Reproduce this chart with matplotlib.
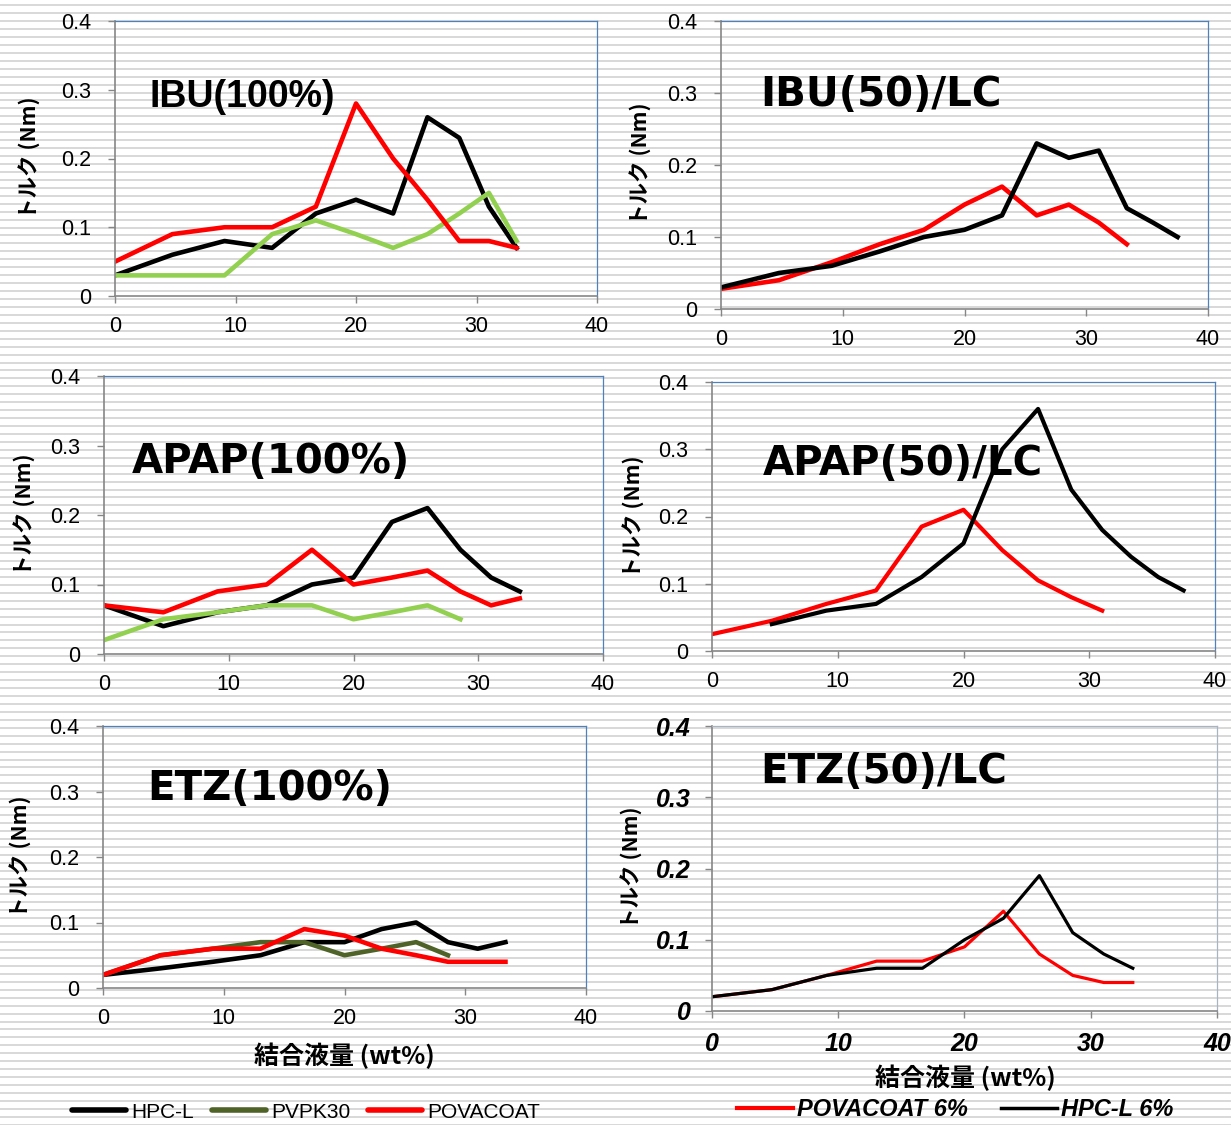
import numpy as np
import matplotlib
matplotlib.use("Agg")
import matplotlib.pyplot as plt
from matplotlib.lines import Line2D

# 結合液量 (wt%) の測定点
binder = [0, 4.76, 9.09, 13.04, 16.67, 20.0, 23.08, 25.93, 28.57, 31.03, 33.33, 35.48, 37.5]

# トルク (Nm)
ibu100_hpc = [0.03, 0.06, 0.08, 0.07, 0.12, 0.14, 0.12, 0.26, 0.23, 0.13, 0.07]
ibu100_pvp = [0.03, 0.03, 0.03, 0.09, 0.11, 0.09, 0.07, 0.09, 0.12, 0.15, 0.08]
ibu100_pova = [0.05, 0.09, 0.10, 0.10, 0.13, 0.28, 0.20, 0.14, 0.08, 0.08, 0.07]

ibu50_pova = [0.028, 0.04, 0.065, 0.09, 0.11, 0.145, 0.17, 0.13, 0.145, 0.12, 0.09]
ibu50_hpc = [0.03, 0.05, 0.06, 0.08, 0.10, 0.11, 0.13, 0.23, 0.21, 0.22, 0.14, 0.12, 0.10]

apap100_hpc = [0.07, 0.04, 0.06, 0.07, 0.10, 0.11, 0.19, 0.21, 0.15, 0.11, 0.09]
apap100_pvp = [0.02, 0.05, 0.06, 0.07, 0.07, 0.05, 0.06, 0.07, 0.05]
apap100_pova = [0.07, 0.06, 0.09, 0.10, 0.15, 0.10, 0.11, 0.12, 0.09, 0.07, 0.08]

apap50_pova = [0.025, 0.045, 0.07, 0.09, 0.185, 0.21, 0.15, 0.105, 0.08, 0.06]
apap50_hpc = [0.04, 0.06, 0.07, 0.11, 0.16, 0.30, 0.36, 0.24, 0.18, 0.14, 0.11, 0.09]  # 4.76 から

etz100_hpc = [0.02, 0.03, 0.04, 0.05, 0.07, 0.07, 0.09, 0.10, 0.07, 0.06, 0.07]
etz100_pvp = [0.02, 0.05, 0.06, 0.07, 0.07, 0.05, 0.06, 0.07, 0.05]
etz100_pova = [0.02, 0.05, 0.06, 0.06, 0.09, 0.08, 0.06, 0.05, 0.04, 0.04, 0.04]

etz50_pova = [0.02, 0.03, 0.05, 0.07, 0.07, 0.09, 0.14, 0.08, 0.05, 0.04, 0.04]
etz50_hpc = [0.02, 0.03, 0.05, 0.06, 0.06, 0.10, 0.13, 0.19, 0.11, 0.08, 0.06]

x_ticks = [0, 10, 20, 30, 40]
y_ticks = [0, 0.1, 0.2, 0.3, 0.4]
y_tick_labels = ["0", "0.1", "0.2", "0.3", "0.4"]

legend_left = ["HPC-L", "PVPK30", "POVACOAT"]
legend_right = ["POVACOAT 6%", "HPC-L 6%"]

BLACK = "#000000"
LIGHT_GREEN = "#92D050"
OLIVE = "#4F6228"
RED = "#FF0000"

W, H = 1231, 1125
SANS = ["Liberation Sans", "DejaVu Sans"]
JP = ["Noto Sans CJK JP", "DejaVu Sans"]
plt.rcParams["font.family"] = SANS

fig = plt.figure(figsize=(W / 100, H / 100), dpi=100)
fig.patch.set_facecolor("white")

# 背景の横縞
bg = np.full((H, W, 3), 255, dtype=np.uint8)
rows = np.arange(H)
stripe = ((rows - 3.7) % 7.94) < 2.0
bg[stripe] = 217
fig.figimage(bg, xo=0, yo=0, origin="upper", zorder=-5)


def px_axes(left, top, right, bottom):
    return fig.add_axes([left / W, 1 - bottom / H, (right - left) / W, (bottom - top) / H])


def style(ax, frame="#4F81BD", tick_size=15.5, bold_italic=False, ypad=12, xpad=9.5):
    ax.set_facecolor("none")
    ax.set_xlim(0, 40)
    ax.set_ylim(0, 0.4)
    ax.set_xticks(x_ticks)
    ax.set_yticks(y_ticks)
    ax.set_yticklabels(y_tick_labels)
    for s in ["left", "bottom"]:
        ax.spines[s].set_color("#868686")
        ax.spines[s].set_linewidth(1.2)
    for s in ["top", "right"]:
        ax.spines[s].set_color(frame)
        ax.spines[s].set_linewidth(0.9)
    ax.tick_params(axis="both", direction="out", length=5, width=1, color="#868686",
                   labelsize=tick_size)
    ax.tick_params(axis="y", pad=ypad)
    ax.tick_params(axis="x", pad=xpad)
    if bold_italic:
        for lab in ax.get_xticklabels() + ax.get_yticklabels():
            lab.set_fontweight("bold")
            lab.set_fontstyle("italic")


def title(x, y, text, family="DejaVu Sans", size=29):
    fig.text(x / W, 1 - y / H, text, family=family, fontweight="bold", fontsize=size,
             ha="left", va="baseline")


def ylab(x, y):
    fig.text(x / W, 1 - y / H, "トルク (Nm)", family=JP, fontweight="bold", fontsize=15.5,
             rotation=90, ha="center", va="center")


def xlab(x, y):
    fig.text(x / W, 1 - y / H, "結合液量 (wt%)", family=JP, fontweight="bold", fontsize=18,
             ha="center", va="center")


LW = 3.3

# IBU(100%)
ax1 = px_axes(115, 21, 597, 296)
ax1.plot(binder[:len(ibu100_hpc)], ibu100_hpc, color=BLACK, lw=LW)
ax1.plot(binder[:len(ibu100_pvp)], ibu100_pvp, color=LIGHT_GREEN, lw=LW)
ax1.plot(binder[:len(ibu100_pova)], ibu100_pova, color=RED, lw=LW)
style(ax1)
title(150, 107, "IBU(100%)", family=SANS, size=27)
ylab(29, 158)

# IBU(50)/LC
ax2 = px_axes(721, 21, 1208, 309)
ax2.plot(binder[:len(ibu50_pova)], ibu50_pova, color=RED, lw=LW)
ax2.plot(binder[:len(ibu50_hpc)], ibu50_hpc, color=BLACK, lw=LW)
style(ax2)
title(760, 106, "IBU(50)/LC")
ylab(640, 164)

# APAP(100%)
ax3 = px_axes(104, 376, 603, 654)
ax3.plot(binder[:len(apap100_hpc)], apap100_hpc, color=BLACK, lw=LW)
ax3.plot(binder[:len(apap100_pvp)], apap100_pvp, color=LIGHT_GREEN, lw=LW)
ax3.plot(binder[:len(apap100_pova)], apap100_pova, color=RED, lw=LW)
style(ax3)
title(132, 473, "APAP(100%)")
ylab(24, 515)

# APAP(50)/LC
ax4 = px_axes(712, 382, 1215, 651)
ax4.plot(binder[:len(apap50_pova)], apap50_pova, color=RED, lw=3.0)
ax4.plot(binder[1:1 + len(apap50_hpc)], apap50_hpc, color=BLACK, lw=3.0)
style(ax4)
title(763, 475, "APAP(50)/LC")
ylab(633, 517)

# ETZ(100%)
ax5 = px_axes(103, 726, 586, 988)
ax5.plot(binder[:len(etz100_hpc)], etz100_hpc, color=BLACK, lw=LW)
ax5.plot(binder[:len(etz100_pvp)], etz100_pvp, color=OLIVE, lw=LW)
ax5.plot(binder[:len(etz100_pova)], etz100_pova, color=RED, lw=LW)
style(ax5)
title(147, 800, "ETZ(100%)")
ylab(20, 857)
xlab(344, 1056)

# ETZ(50)/LC
ax6 = px_axes(712, 726, 1217, 1011)
ax6.plot(binder[:len(etz50_pova)], etz50_pova, color=RED, lw=2.3)
ax6.plot(binder[:len(etz50_hpc)], etz50_hpc, color=BLACK, lw=2.3)
style(ax6, frame="#A9B4C2", tick_size=18, bold_italic=True, ypad=10, xpad=10)
title(760, 783, "ETZ(50)/LC")
ylab(631, 868)
xlab(965, 1078)

# 凡例
h_left = [Line2D([], [], color=BLACK, lw=4, solid_capstyle="round"),
          Line2D([], [], color=OLIVE, lw=4, solid_capstyle="round"),
          Line2D([], [], color=RED, lw=4, solid_capstyle="round")]
fig.legend(h_left, legend_left, loc="center", bbox_to_anchor=(306 / W, 1 - 1112 / H),
           ncol=3, frameon=False, fontsize=15, handlelength=2.6, handletextpad=0.25,
           columnspacing=0.85, borderpad=0)

h_right = [Line2D([], [], color=RED, lw=3), Line2D([], [], color=BLACK, lw=2.5)]
fig.legend(h_right, legend_right, loc="center", bbox_to_anchor=(955 / W, 1 - 1110 / H),
           ncol=2, frameon=False, handlelength=2.4, handletextpad=0.15,
           columnspacing=1.4, borderpad=0,
           prop={"family": SANS, "weight": "bold", "style": "italic", "size": 17})

fig.savefig("out.png", dpi=100)
